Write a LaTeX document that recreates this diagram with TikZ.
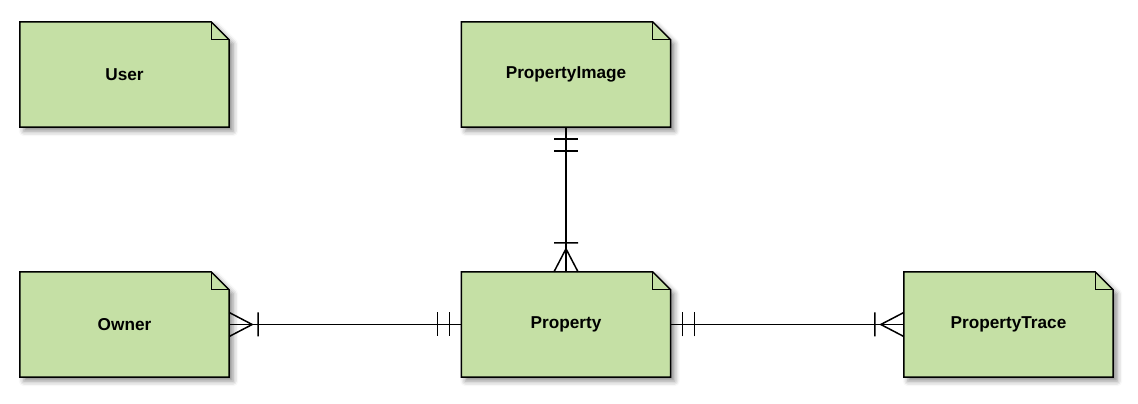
\documentclass[tikz,border=0pt]{standalone}
\usepackage{fontspec}
\setmainfont{Liberation Sans}
\usetikzlibrary{shadows.blur}

\definecolor{entityfill}{RGB}{197,224,165}

\tikzset{
  entity/.style={rectangle,minimum width=209pt,minimum height=105pt,inner sep=0pt,
    font=\fontsize{17.2}{20}\selectfont\bfseries},
  notebox/.style={fill=entityfill,draw=black,line width=1.5pt,line join=miter,
    blur shadow={shadow xshift=4pt,shadow yshift=-4pt,shadow blur radius=5pt,shadow opacity=45}},
  link/.style={line width=1.5pt},
  % exactly one
  oneone/.pic={\draw[link] (12,-12)--(12,12) (24,-12)--(24,12);},
  % one or many
  onemany/.pic={\draw[link] (0,-12)--(23,0)--(0,12) (29,-12)--(29,12);}
}

% note-shaped box behind a named node
\newcommand{\notebox}[1]{%
  \path[notebox] (#1.south west) -- (#1.north west) -- ([xshift=-18pt]#1.north east)
    -- ([yshift=-18pt]#1.north east) -- (#1.south east) -- cycle;
  \draw[line width=1.2pt] ([xshift=-18pt]#1.north east) |- ([yshift=-18pt]#1.north east);
}

\begin{document}
\begin{tikzpicture}[x=1pt,y=1pt]
    \useasboundingbox (0,0) rectangle (1138,404);

    \node[entity] (user)  at (124.5,329.5) {};
    \node[entity] (image) at (566,329.5)   {};
    \node[entity] (owner) at (124.5,79.5)  {};
    \node[entity] (prop)  at (566,79.5)    {};
    \node[entity] (trace) at (1008.5,79.5) {};

    \foreach \n in {user,image,owner,prop,trace}
      {\notebox{\n}}

    \node[entity] at (user)  {User};
    \node[entity] at (image) {PropertyImage};
    \node[entity] at (owner) {Owner};
    \node[entity] at (prop)  {Property};
    \node[entity] at (trace) {PropertyTrace};

    % relations
    \draw[link] (image.south) -- (prop.north);
    \draw[link] (owner.east) -- (prop.west);
    \draw[link] (prop.east) -- (trace.west);

    \pic[rotate=-90] at (image.south) {oneone};
    \pic[rotate=90]  at (prop.north)  {onemany};
    \pic at (owner.east) {onemany};
    \pic[rotate=180] at (prop.west)   {oneone};
    \pic at (prop.east) {oneone};
    \pic[rotate=180] at (trace.west)  {onemany};

  \end{tikzpicture}
\end{document}
